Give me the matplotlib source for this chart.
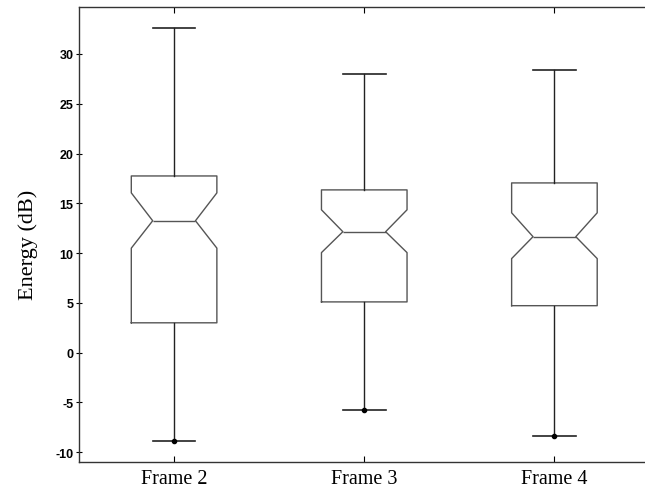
import matplotlib
matplotlib.use('Agg')
import matplotlib.pyplot as plt

plt.rcParams['axes.unicode_minus'] = False

# values (dB)
labels = ['Frame 2', 'Frame 3', 'Frame 4']
whis_hi = [32.6, 28.0, 28.4]
q3 = [17.75, 16.35, 17.05]
notch_hi = [16.05, 14.35, 14.05]
median = [13.25, 12.15, 11.65]
notch_lo = [10.5, 10.05, 9.45]
q1 = [3.0, 5.1, 4.72]
whis_lo = [-8.85, -5.75, -8.35]

stats = []
for i in range(len(labels)):
    stats.append({'label': labels[i], 'whislo': whis_lo[i], 'q1': q1[i],
                  'med': median[i], 'q3': q3[i], 'whishi': whis_hi[i],
                  'cilo': notch_lo[i], 'cihi': notch_hi[i],
                  'fliers': [whis_lo[i]]})

fig = plt.figure(figsize=(6.45, 4.89), dpi=100)
ax = fig.add_axes([79 / 645, 26.3 / 489, 570.5 / 645, 454.7 / 489])

ax.bxp(stats, positions=[1, 2, 3], widths=0.45, shownotches=True,
       boxprops=dict(color='#555555', linewidth=1.0),
       medianprops=dict(color='#555555', linewidth=1.0),
       whiskerprops=dict(color='#222222', linewidth=1.0),
       capprops=dict(color='#222222', linewidth=1.2),
       flierprops=dict(marker='o', markersize=3, markerfacecolor='black',
                       markeredgecolor='black'))

ax.set_xlim(0.5, 3.5)
ax.set_ylim(-10.95, 34.72)
ax.set_yticks(range(-10, 31, 5))
ax.set_xticks([1, 2, 3])
ax.set_xticklabels(labels, fontfamily='Liberation Serif', fontsize=14.5)
for t in ax.get_yticklabels():
    t.set_fontfamily('Liberation Sans')
    t.set_fontweight('bold')
    t.set_fontsize(9)

ax.tick_params(axis='x', direction='in', length=4, top=True, pad=5)
ax.tick_params(axis='y', direction='inout', length=4, pad=2)
for s in ax.spines.values():
    s.set_color('#333333')
    s.set_linewidth(1.0)
ax.spines['right'].set_visible(False)

ax.set_ylabel('Energy (dB)', fontfamily='Liberation Serif', fontsize=16)
ax.yaxis.set_label_coords(-0.072, 0.48)

fig.savefig('out.png', dpi=100)
